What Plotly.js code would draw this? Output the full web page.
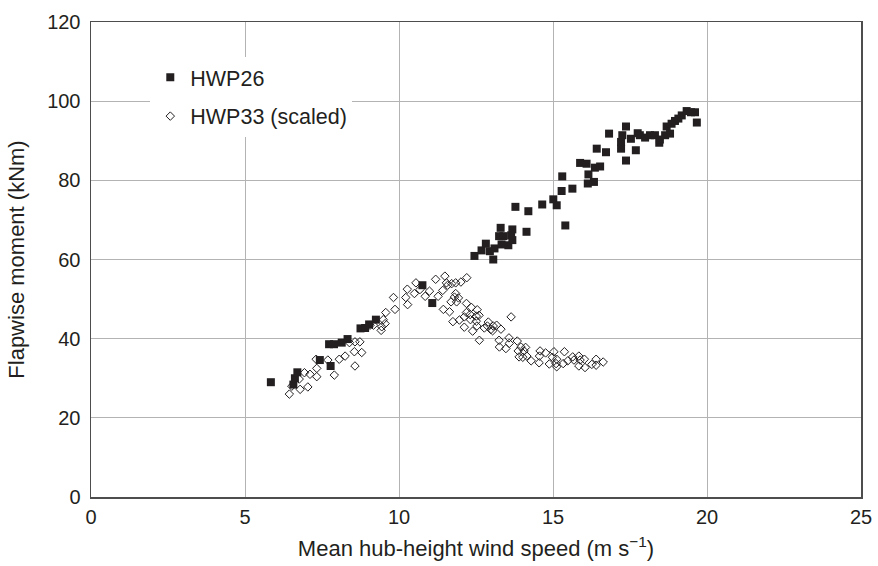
<!DOCTYPE html>
<html>
<head>
<meta charset="utf-8">
<script src="https://cdn.plot.ly/plotly-3.0.1.min.js"></script>
<style>html,body{margin:0;padding:0;background:#fff;}#chart{width:878px;height:566px;}</style>
</head>
<body>
<div id="chart"></div>
<script>
// HWP26 – filled squares
const hwp26Speed = [5.84,6.57,6.62,6.70,7.43,7.78,7.73,7.89,8.14,8.33,8.75,8.90,9.03,9.25,10.76,11.08,
  12.45,12.68,12.82,12.95,13.06,13.10,13.33,13.55,13.68,13.25,13.39,13.64,13.68,13.30,14.14,13.78,14.20,
  14.65,15.01,15.12,15.40,15.28,15.30,15.63,15.88,16.09,16.15,16.13,16.33,16.36,16.53,16.42,16.72,16.82,
  17.21,17.21,17.25,17.37,17.37,17.53,17.69,17.75,17.82,17.99,18.15,18.31,18.45,18.47,18.64,18.69,18.80,
  18.85,18.96,19.07,19.18,19.34,19.48,19.61,19.67];
const hwp26Moment = [29.0,28.4,30.0,31.5,34.6,33.1,38.6,38.6,39.0,39.9,42.6,42.7,43.6,44.8,53.5,49.0,
  60.9,62.3,64.0,62.1,60.0,62.8,63.8,63.6,64.9,65.9,65.9,66.1,67.6,68.0,67.0,73.3,72.2,
  73.9,75.2,73.7,68.6,77.3,81.0,77.9,84.4,84.2,81.5,79.2,79.6,83.2,83.5,88.0,87.1,91.8,
  88.0,89.7,91.4,93.6,85.0,90.5,87.6,91.9,91.4,90.8,91.4,91.4,89.5,90.3,91.4,93.6,91.8,
  94.3,95.0,95.6,96.4,97.5,97.2,97.2,94.6];

// HWP33 (scaled) – open diamonds
const hwp33Speed = [6.44,6.52,6.79,7.04,6.76,6.93,7.11,7.33,7.33,7.31,7.69,7.90,8.06,8.25,8.57,8.55,8.79,
  8.39,8.57,8.73,9.06,9.17,9.42,9.44,9.55,9.49,9.57,9.87,9.82,10.22,10.28,10.27,10.50,10.55,10.68,10.85,
  10.99,11.19,11.27,11.42,11.49,11.54,11.58,11.71,11.84,12.01,12.20,11.84,11.87,11.69,11.44,11.64,11.75,
  11.96,11.80,11.93,12.19,12.19,12.35,12.54,12.12,12.31,12.32,12.51,12.60,12.51,12.53,12.39,12.12,12.61,
  12.90,12.87,13.06,13.17,12.77,12.98,13.31,13.04,13.64,13.57,13.25,13.26,13.47,13.58,13.84,13.96,14.11,
  13.87,14.06,13.90,14.02,14.15,14.29,14.58,14.56,14.76,14.55,14.88,14.98,15.03,15.12,15.12,15.10,15.37,
  15.33,15.48,15.64,15.68,15.84,15.88,16.02,15.84,16.04,16.26,16.40,16.40,16.63];
const hwp33Moment = [26.0,28.0,27.2,27.8,29.8,31.4,31.0,30.4,32.5,34.8,34.6,30.8,34.8,35.6,33.1,36.7,36.5,
  39.0,39.2,39.2,43.4,43.4,42.1,43.0,43.8,44.8,46.6,47.4,50.4,50.4,48.6,52.5,51.4,54.1,52.4,50.7,
  52.0,55.0,50.7,52.2,55.8,54.1,53.5,53.9,54.1,54.3,55.4,51.4,49.3,49.3,47.4,46.8,44.3,
  44.7,50.5,50.3,48.9,46.6,47.9,47.3,45.5,46.1,44.8,45.7,45.9,44.4,43.2,41.9,42.9,39.6,
  44.2,43.2,43.2,43.4,42.7,42.3,42.4,42.0,45.5,40.2,39.6,37.9,37.5,38.8,39.4,37.9,37.8,
  36.9,36.9,35.4,35.3,35.6,34.4,36.9,35.6,36.4,33.9,33.6,35.3,36.7,34.8,32.9,33.7,36.7,
  33.7,34.4,35.4,34.6,35.6,34.6,34.8,33.1,32.7,33.5,34.8,33.3,34.1];

const seriesNames = ['HWP26', 'HWP33 (scaled)'];
const xTicks = [0, 5, 10, 15, 20, 25];
const yTicks = [0, 20, 40, 60, 80, 100, 120];

const ink = '#231f20';
const fontFam = '"Liberation Sans", Arial, Helvetica, sans-serif';

const traces = [
  {x: hwp26Speed, y: hwp26Moment, name: seriesNames[0], type: 'scatter', mode: 'markers',
   legendgroup: 'a',
   marker: {symbol: 'square', size: 8, color: ink, line: {width: 0}}},
  {x: hwp33Speed, y: hwp33Moment, name: seriesNames[1], type: 'scatter', mode: 'markers',
   legendgroup: 'b',
   marker: {symbol: 'diamond-open', size: 6.5, color: ink, line: {width: 1, color: ink}}}
];

const axisCommon = {
  showgrid: true, gridcolor: '#b3b3b3', gridwidth: 1,
  showline: true, linecolor: '#4d4d4d', linewidth: 1.5, mirror: true,
  zeroline: false, ticks: '',
  tickfont: {family: fontFam, size: 20, color: ink}
};

const layout = {
  width: 878, height: 566,
  margin: {l: 91, r: 17, t: 21.5, b: 69},
  paper_bgcolor: '#fff', plot_bgcolor: '#fff',
  showlegend: true,
  legend: {x: 0.077, xanchor: 'left', y: 0.927, yanchor: 'top', bgcolor: '#fff', borderwidth: 0,
           traceorder: 'grouped', tracegroupgap: 8,
           font: {family: fontFam, size: 21.5, color: ink}},
  xaxis: Object.assign({}, axisCommon, {
    range: [0, 25], tickvals: xTicks, ticktext: xTicks.map(String), ticklabelstandoff: 1,
    title: {text: 'Mean hub-height wind speed (m s<sup>\u22121</sup>)', standoff: 14,
            font: {family: fontFam, size: 22, color: ink}}
  }),
  yaxis: Object.assign({}, axisCommon, {
    range: [0, 120], tickvals: yTicks, ticktext: yTicks.map(String), ticklabelstandoff: 5,
    title: {text: 'Flapwise moment (kNm)', standoff: 16,
            font: {family: fontFam, size: 22, color: ink}}
  })
};

Plotly.newPlot('chart', traces, layout, {displayModeBar: false, staticPlot: true});
</script>
</body>
</html>
